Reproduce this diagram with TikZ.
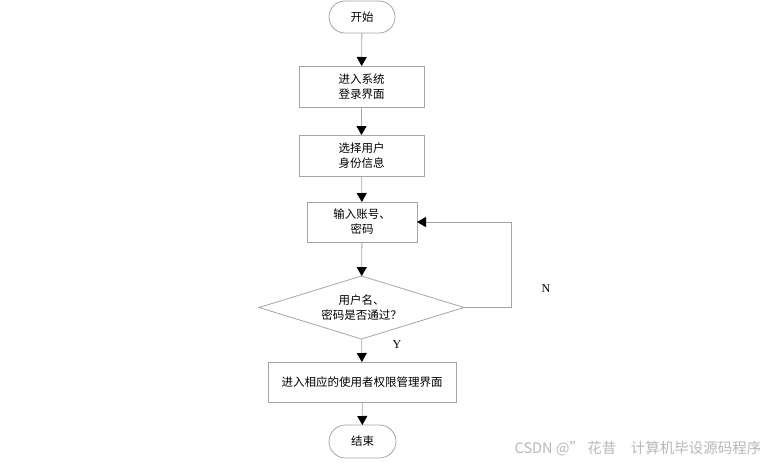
\documentclass[tikz,border=0pt]{standalone}
\usepackage{fontspec}
\setmainfont{Liberation Serif}
\newfontfamily\cjk{Noto Sans CJK SC}
\usetikzlibrary{arrows.meta,shapes.geometric,shapes.misc}
\definecolor{edge}{RGB}{165,165,165}
\begin{document}
\begin{tikzpicture}[x=1pt,y=-1pt,
  every node/.style={inner sep=0pt,outer sep=0pt},
  procbox/.style={draw=edge,line width=0.8pt,rectangle,align=center,font=\cjk\fontsize{11.5}{15}\selectfont},
  term/.style={draw=edge,line width=0.8pt,rounded rectangle,align=center,font=\cjk\fontsize{11.5}{15}\selectfont},
  decide/.style={draw=edge,line width=0.8pt,diamond,align=center,font=\cjk\fontsize{11.5}{15}\selectfont},
  flow/.style={draw=edge,line width=0.8pt,-{Triangle[width=10pt,length=9pt,black]}},
  lab/.style={font=\fontsize{12}{14}\selectfont}]
\useasboundingbox (0,0) rectangle (760,464);
\node[term,minimum width=66pt,minimum height=32pt] (start) at (362,17) {开始};
\node[procbox,minimum width=125pt,minimum height=41pt] (b1) at (361.5,86.5) {进入系统\\登录界面};
\node[procbox,minimum width=125pt,minimum height=41pt] (b2) at (361.5,155.5) {选择用户\\身份信息};
\node[procbox,minimum width=110pt,minimum height=40pt] (b3) at (362,222) {输入账号、\\密码};
\node[decide,minimum width=205pt,minimum height=63pt,aspect=3.25] (d) at (361.5,307.5) {};
\node[align=center,font=\cjk\fontsize{11.5}{15}\selectfont] (dt) at (361.5,307.5) {用户名、\\密码是否通过？};
\node[procbox,minimum width=188pt,minimum height=40pt] (b4) at (362,382) {进入相应的使用者权限管理界面};
\node[term,minimum width=67pt,minimum height=33pt] (stop) at (362.5,441.5) {结束};
\coordinate (r) at (511,307.5);
\coordinate (ru) at (511,222);
\node[lab] (nlab) at (546,289) {N};
\node[lab] (ylab) at (397,345) {Y};
\node[font=\cjk\fontsize{14.5}{16}\selectfont,text=edge!80] (wm) at (638,449) {CSDN @\textquotedblright\ 花昔\quad 计算机毕设源码程序};
\draw[flow] (start) -- (b1);
\draw[flow] (b1) -- (b2);
\draw[flow] (b2) -- (b3);
\draw[flow] (b3) -- (d);
\draw[flow] (d) -- (b4);
\draw[flow] (b4) -- (stop);
\draw[flow] (d.east) -- (r) -- (ru) -- (b3.east);
\end{tikzpicture}
\end{document}
